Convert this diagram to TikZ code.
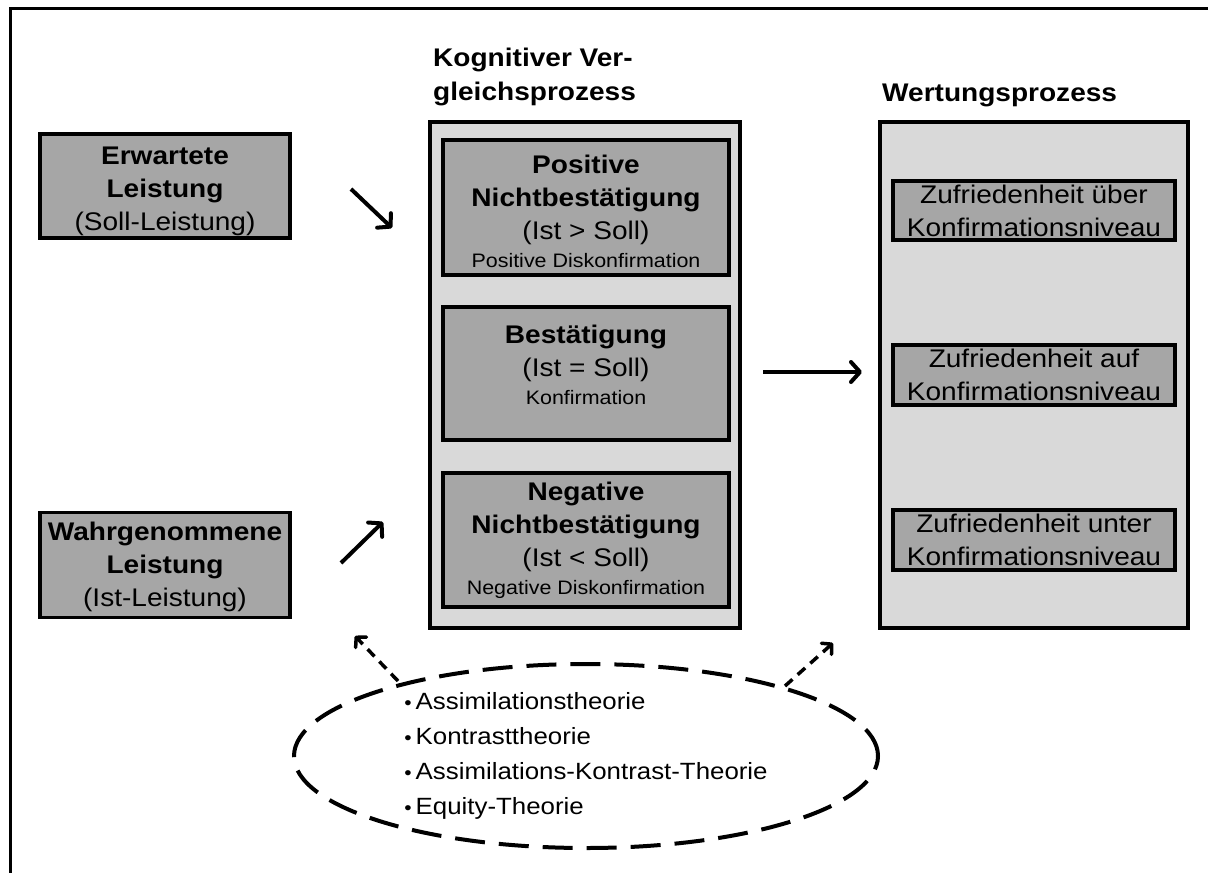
\documentclass[tikz,border=0pt]{standalone}
\usepackage{fontspec}
\setmainfont{Liberation Sans}[FakeStretch=1.1]
\usetikzlibrary{arrows.meta,shapes.geometric}

\definecolor{boxgray}{RGB}{166,166,166}
\definecolor{panelgray}{RGB}{217,217,217}

\tikzset{
  txt/.style={font=\fontsize{25.5}{33}\selectfont, align=center, inner sep=0pt},
  box/.style={txt, draw, line width=3.5pt, fill=boxgray, rectangle},
  panel/.style={draw, line width=4pt, fill=panelgray, rectangle, inner sep=0pt},
  heading/.style={font=\bfseries\fontsize{25.5}{34}\selectfont, align=left, inner sep=0pt},
  flow/.style={line width=4pt, -{Straight Barb[length=9pt, width=20pt, round]}},
  hint/.style={line width=3.5pt, dash pattern=on 10pt off 7pt,
               -{Straight Barb[length=7pt, width=15pt, round]}},
  theories/.style={ellipse, draw, line width=4pt, dash pattern=on 30pt off 14pt,
                   font=\fontsize{23.5}{35}\selectfont, align=left, inner sep=0pt}
}
\newcommand{\sm}[1]{{\fontsize{19.5}{24}\selectfont #1}}
\newcommand{\bul}{{\fontsize{19}{19}\selectfont •}\hspace{4pt}}
% invisible strut that pads the first line of a box from above
\newcommand{\pad}[1]{\rule{0pt}{#1}}

\begin{document}
\begin{tikzpicture}[x=1pt, y=-1pt]
  \useasboundingbox (0,0) rectangle (1208,873);

  % partial frame: top and left edges
  \draw[line width=3pt] (10,873) -- (10,8) -- (1208,8);

  % inputs
  \node[box, minimum width=250pt, minimum height=104pt] (exp) at (165,186)
    {\pad{29pt}\textbf{Erwartete}\\\textbf{Leistung}\\(Soll-Leistung)};
  \node[box, minimum width=250pt, minimum height=105pt] (perc) at (165,565)
    {\pad{23pt}\textbf{Wahrgenommene}\\\textbf{Leistung}\\(Ist-Leistung)};

  % comparison panel
  \node[heading, anchor=base west] (cmph) at (433,100) {Kognitiver Ver-\\gleichsprozess};
  \node[panel, minimum width=310pt, minimum height=506pt] (cmp) at (585,375) {};
  \node[box, minimum width=286pt, minimum height=135pt] (pos) at (586,207.5)
    {\pad{26pt}\textbf{Positive}\\\textbf{Nichtbestätigung}\\(Ist > Soll)\\[-5pt]\sm{Positive Diskonfirmation}};
  \node[box, text depth=18pt, minimum width=286pt, minimum height=133pt] (conf) at (586,373.5)
    {\textbf{Bestätigung}\\(Ist = Soll)\\[-5pt]\sm{Konfirmation}};
  \node[box, minimum width=286pt, minimum height=134pt] (neg) at (586,540)
    {\textbf{Negative}\\\textbf{Nichtbestätigung}\\(Ist < Soll)\\[-5pt]\sm{Negative Diskonfirmation}};

  % evaluation panel
  \node[heading, anchor=base west] (evh) at (882,101) {Wertungsprozess};
  \node[panel, minimum width=308pt, minimum height=506pt] (ev) at (1034,375) {};
  \node[box, minimum width=282pt, minimum height=59pt] (above) at (1034,210.5)
    {Zufriedenheit über\\Konfirmationsniveau};
  \node[box, minimum width=282pt, minimum height=60pt] (at) at (1034,375)
    {Zufriedenheit auf\\Konfirmationsniveau};
  \node[box, minimum width=282pt, minimum height=60pt] (below) at (1034,540)
    {Zufriedenheit unter\\Konfirmationsniveau};

  % theories
  \node[theories, minimum width=584pt, minimum height=184pt] (th) at (586,756)
    {\bul Assimilationstheorie\\
     \bul Kontrasttheorie\\
     \bul Assimilations-Kontrast-Theorie\\
     \bul Equity-Theorie};

  % arrow end points
  \coordinate (e1) at (351,189);  \coordinate (e2) at (392,228);
  \coordinate (p1) at (341,563);  \coordinate (p2) at (383,522);
  \coordinate (c1) at (763,372);  \coordinate (c2) at (862,372);
  \coordinate (t1) at (398,681);  \coordinate (t2) at (355,636);
  \coordinate (u1) at (785,686);  \coordinate (u2) at (833,643);

  \draw[flow] (e1) -- (e2);
  \draw[flow] (p1) -- (p2);
  \draw[flow] (c1) -- (c2);
  \draw[hint] (t1) -- (t2);
  \draw[hint] (u1) -- (u2);
\end{tikzpicture}
\end{document}
